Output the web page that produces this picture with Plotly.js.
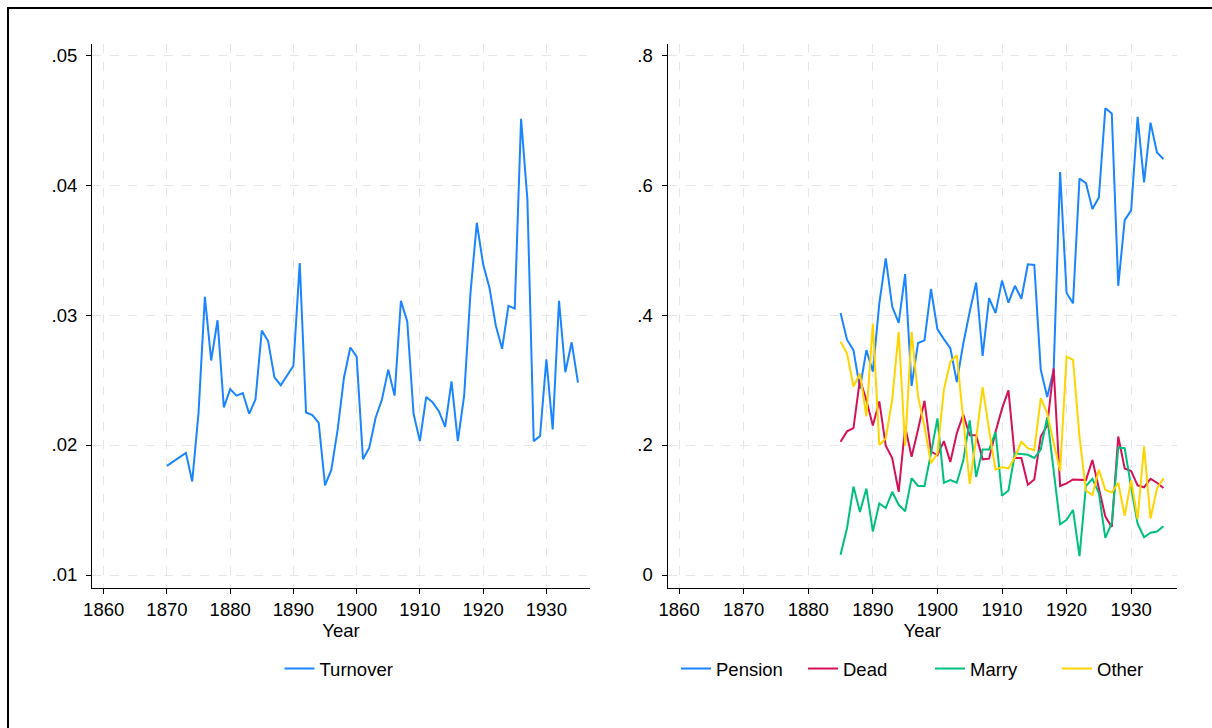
<!DOCTYPE html>
<html>
<head>
<meta charset="utf-8">
<script src="https://cdn.plot.ly/plotly-3.0.1.min.js"></script>
<style>
  html, body { margin: 0; padding: 0; background: #fff; overflow: hidden; }
  #frame { position: absolute; left: 7px; top: 7px; width: 1205px; height: 721px; border-left: 2px solid #000; border-top: 2px solid #000; box-sizing: border-box; pointer-events: none; }
  #chart { position: absolute; left: 0; top: 0; width: 1212px; height: 728px; }
</style>
</head>
<body>
<div id="chart"></div>
<div id="frame"></div>
<script>
// ---- Left panel: turnover ----
const turnoverYears = [1870,1873,1874,1875,1876,1877,1878,1879,1880,1881,1882,1883,1884,1885,1886,1887,1888,1890,
  1891,1892,1893,1894,1895,1896,1897,1898,1899,1900,1901,1902,1903,1904,1905,1906,1907,1908,1909,1910,
  1911,1912,1913,1914,1915,1916,1917,1918,1919,1920,1921,1922,1923,1924,1925,1926,1927,1928,1929,1930,
  1931,1932,1933,1934,1935];
const turnover = [0.0184,0.0194,0.0172,0.0225,0.0314,0.0265,0.0296,0.0229,0.0243,0.0238,0.0240,0.0224,0.0235,0.0288,0.0280,0.0252,0.0246,0.0261,
  0.0340,0.0225,0.0223,0.0217,0.0169,0.0181,0.0212,0.0252,0.0275,0.0268,0.0189,0.0198,0.0221,0.0235,0.0258,0.0238,0.0311,0.0295,0.0224,0.0203,
  0.0237,0.0233,0.0226,0.0214,0.0249,0.0203,0.0238,0.0317,0.0371,0.0339,0.0321,0.0292,0.0274,0.0307,0.0305,0.0451,0.0389,0.0203,0.0207,0.0266,
  0.0212,0.0311,0.0256,0.0279,0.0248];

// ---- Right panel: exit reasons ----
const exitYears = [1885,1886,1887,1888,1889,1890,1891,1892,1893,1894,1895,1896,1897,1898,1899,1900,
  1901,1902,1903,1904,1905,1906,1907,1908,1909,1910,1911,1912,1913,1914,1915,1916,1917,1918,1919,1920,
  1921,1922,1923,1924,1925,1926,1927,1928,1929,1930,1931,1932,1933,1934,1935];
const pension = [0.403,0.362,0.346,0.287,0.346,0.313,0.418,0.487,0.413,0.388,0.463,0.291,0.357,0.361,0.440,0.378,
  0.363,0.349,0.297,0.356,0.405,0.450,0.337,0.426,0.403,0.453,0.419,0.445,0.425,0.478,0.477,0.316,0.274,0.315,0.620,0.434,
  0.418,0.610,0.603,0.563,0.581,0.718,0.710,0.445,0.546,0.561,0.705,0.604,0.696,0.650,0.640];
const dead = [0.205,0.221,0.226,0.301,0.269,0.230,0.267,0.199,0.180,0.128,0.228,0.182,0.224,0.268,0.190,0.184,
  0.206,0.174,0.218,0.247,0.215,0.215,0.178,0.179,0.220,0.256,0.284,0.180,0.180,0.139,0.147,0.213,0.230,0.318,0.137,0.141,
  0.147,0.147,0.146,0.177,0.133,0.090,0.074,0.213,0.164,0.160,0.138,0.135,0.148,0.142,0.134];
const marry = [0.031,0.072,0.136,0.097,0.133,0.067,0.110,0.103,0.128,0.108,0.098,0.149,0.137,0.137,0.187,0.241,
  0.142,0.146,0.142,0.176,0.238,0.151,0.193,0.193,0.220,0.122,0.130,0.187,0.186,0.185,0.180,0.193,0.243,0.162,0.078,0.085,
  0.100,0.029,0.137,0.148,0.126,0.057,0.080,0.196,0.195,0.135,0.079,0.058,0.065,0.067,0.075];
const other = [0.359,0.341,0.290,0.310,0.244,0.387,0.200,0.210,0.270,0.374,0.199,0.374,0.275,0.228,0.172,0.187,
  0.285,0.328,0.338,0.235,0.140,0.210,0.289,0.223,0.162,0.166,0.164,0.181,0.205,0.195,0.192,0.272,0.249,0.203,0.160,0.336,
  0.331,0.213,0.130,0.123,0.162,0.131,0.127,0.142,0.091,0.146,0.086,0.198,0.087,0.133,0.149];

// tick labels
const xTicks = [1860,1870,1880,1890,1900,1910,1920,1930];
const leftYTicks = [0.01,0.02,0.03,0.04,0.05];
const leftYLabels = ['.01','.02','.03','.04','.05'];
const rightYTicks = [0,0.2,0.4,0.6,0.8];
const rightYLabels = ['0','.2','.4','.6','.8'];

const FONT = 'Liberation Sans, Arial, sans-serif';
const FS = 18.5;
const W = 1212, H = 728;

const traces = [
  {x: turnoverYears, y: turnover, name: 'Turnover', type: 'scatter', mode: 'lines',
   line: {color: '#1a85ff', width: 2}, xaxis: 'x', yaxis: 'y', legend: 'legend'},
  {x: exitYears, y: pension, name: 'Pension', type: 'scatter', mode: 'lines',
   line: {color: '#1a85ff', width: 2}, xaxis: 'x2', yaxis: 'y2', legend: 'legend2'},
  {x: exitYears, y: dead, name: 'Dead', type: 'scatter', mode: 'lines',
   line: {color: '#d41159', width: 2}, xaxis: 'x2', yaxis: 'y2', legend: 'legend2'},
  {x: exitYears, y: marry, name: 'Marry', type: 'scatter', mode: 'lines',
   line: {color: '#00bf7f', width: 2}, xaxis: 'x2', yaxis: 'y2', legend: 'legend2'},
  {x: exitYears, y: other, name: 'Other', type: 'scatter', mode: 'lines',
   line: {color: '#ffd400', width: 2}, xaxis: 'x2', yaxis: 'y2', legend: 'legend2'}
];

const yDom = [1 - 588/H, 1 - 44/H];

function xAxis(dom, anchor) {
  return {
    domain: dom, anchor: anchor, range: [1858.15, 1936.9],
    tickmode: 'array', tickvals: xTicks, ticktext: xTicks.map(String),
    ticks: 'outside', ticklen: 5, tickwidth: 1, tickcolor: '#000',
    showline: true, linecolor: '#000', linewidth: 1, mirror: false,
    showgrid: true, gridcolor: '#e6e6e6', gridwidth: 1, griddash: 'dash',
    zeroline: false, automargin: false,
    tickfont: {family: FONT, size: FS, color: '#000'},
    ticklabelstandoff: 0,
    title: {text: 'Year', font: {family: FONT, size: FS, color: '#000'}, standoff: 2}
  };
}
function yAxis(dom, anchor, range, vals, labels) {
  return {
    domain: dom, anchor: anchor, range: range,
    tickmode: 'array', tickvals: vals, ticktext: labels,
    ticks: 'outside', ticklen: 5, tickwidth: 1, tickcolor: '#000',
    showline: true, linecolor: '#000', linewidth: 1,
    showgrid: true, gridcolor: '#e6e6e6', gridwidth: 1, griddash: 'dash',
    zeroline: false, automargin: false,
    tickfont: {family: FONT, size: FS, color: '#000'},
    ticklabelstandoff: 5
  };
}

const layout = {
  width: W, height: H,
  margin: {l: 0, r: 0, t: 0, b: 0},
  paper_bgcolor: '#fff', plot_bgcolor: '#fff',
  font: {family: FONT, size: FS, color: '#000'},
  xaxis: xAxis([92/W, 590/W], 'y'),
  yaxis: yAxis(yDom, 'x', [0.0090, 0.05085], leftYTicks, leftYLabels),
  xaxis2: Object.assign(xAxis([667.5/W, 1177/W], 'y2'), {range: [1858.2, 1937.1]}),
  yaxis2: yAxis(yDom, 'x2', [-0.02, 0.817], rightYTicks, rightYLabels),
  showlegend: true,
  legend: {orientation: 'h', x: 339/W, xanchor: 'center', y: 1 - 669/H, yanchor: 'middle',
           font: {family: FONT, size: FS, color: '#000'}, bgcolor: 'rgba(0,0,0,0)'},
  legend2: {orientation: 'h', x: 930/W, xanchor: 'center', y: 1 - 669/H, yanchor: 'middle',
            entrywidth: 82, entrywidthmode: 'pixels',
            font: {family: FONT, size: FS, color: '#000'}, bgcolor: 'rgba(0,0,0,0)'}
};

Plotly.newPlot('chart', traces, layout, {displayModeBar: false, staticPlot: true});
</script>
</body>
</html>
